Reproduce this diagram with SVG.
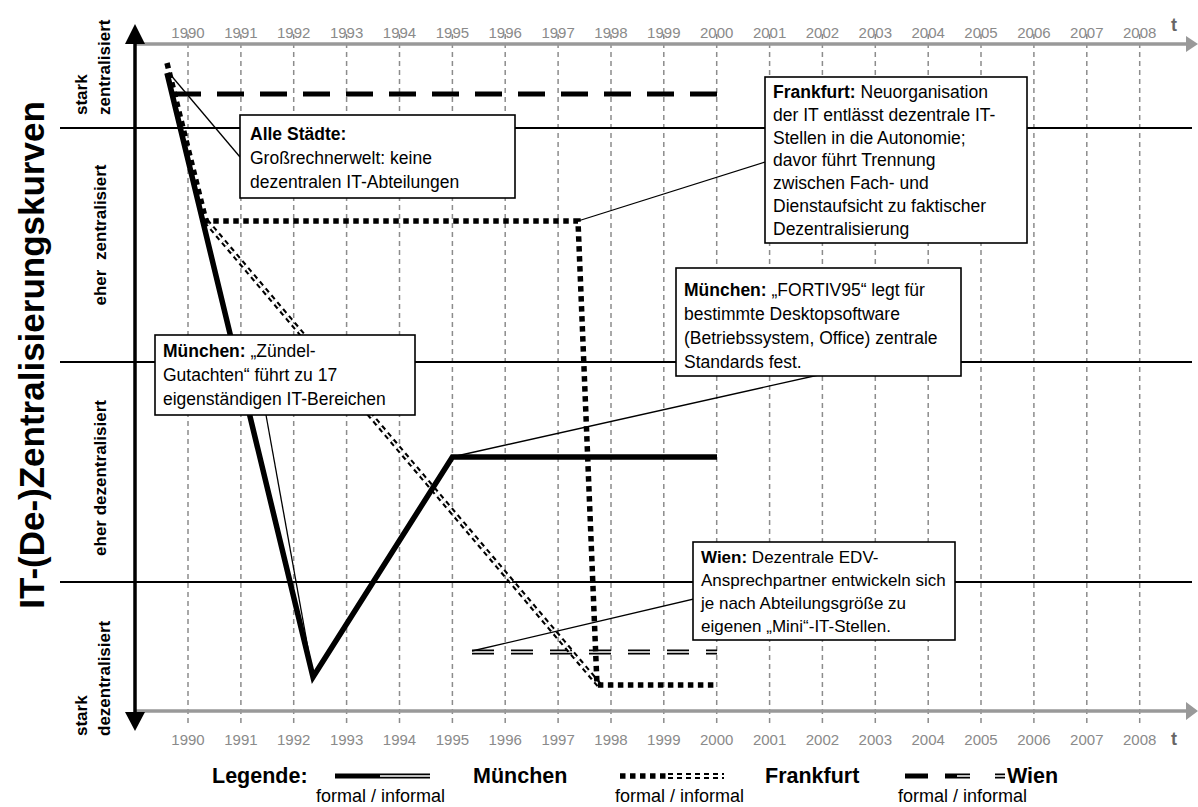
<svg xmlns="http://www.w3.org/2000/svg" width="1198" height="807" viewBox="0 0 1198 807">
<style>
.grid{stroke:#8c8c8c;stroke-width:1.5;stroke-dasharray:5 4;fill:none}
.sep{stroke:#000;stroke-width:2;fill:none}
.yr{font-family:"Liberation Sans",Arial,sans-serif;font-size:15px;fill:#8a8a8a;text-anchor:middle}
.tl{font-family:"Liberation Sans",Arial,sans-serif;font-size:18px;font-weight:bold;fill:#666}
.cat{font-family:"Liberation Sans",Arial,sans-serif;font-size:17px;font-weight:bold;fill:#000}
.title{font-family:"Liberation Sans",Arial,sans-serif;font-size:35px;font-weight:bold;fill:#000}
.box rect{fill:#fff;stroke:#000;stroke-width:1.6}
.bt{font-family:"Liberation Sans",Arial,sans-serif;font-size:17.5px;fill:#000}
.bts{font-size:17px}
.b{font-weight:bold}
.co{stroke:#000;stroke-width:1.3;fill:none}
.mf{stroke:#000;stroke-width:5.5;fill:none;stroke-linejoin:miter}
.ff{stroke:#000;stroke-width:5.5;stroke-dasharray:5.5 4.5;fill:none}
.fib{stroke:#000;stroke-width:6;stroke-dasharray:5 4;fill:none}
.fiw{stroke:#fff;stroke-width:1.8;stroke-dasharray:5 4;fill:none}
.wf{stroke:#000;stroke-width:5;stroke-dasharray:27 16;fill:none}
.wib{stroke:#000;stroke-width:5;stroke-dasharray:22 17;fill:none}
.wiw{stroke:#fff;stroke-width:1.5;stroke-dasharray:22 17;fill:none}
.dbl{stroke:#000;stroke-width:5;fill:none}
.dblw{stroke:#fff;stroke-width:1.5;fill:none}
.lg{font-family:"Liberation Sans",Arial,sans-serif;font-size:21.5px;font-weight:bold;fill:#000}
.lf{font-family:"Liberation Sans",Arial,sans-serif;font-size:18px;fill:#000}
</style>
<rect x="0" y="0" width="1198" height="807" fill="#fff"/>
<g id="grid">
<path class="grid" d="M188 34V723M240.9 34V723M293.7 34V723M346.6 34V723M399.5 34V723M452.4 34V723M505.2 34V723M558.1 34V723M611 34V723M663.8 34V723M716.7 34V723M769.6 34V723M822.4 34V723M875.3 34V723M928.2 34V723M981 34V723M1033.9 34V723M1086.8 34V723M1139.7 34V723"/>
</g>
<g id="year-labels-top">
<text class="yr" x="188" y="38">1990</text><text class="yr" x="240.9" y="38">1991</text><text class="yr" x="293.7" y="38">1992</text><text class="yr" x="346.6" y="38">1993</text><text class="yr" x="399.5" y="38">1994</text><text class="yr" x="452.4" y="38">1995</text><text class="yr" x="505.2" y="38">1996</text><text class="yr" x="558.1" y="38">1997</text><text class="yr" x="611" y="38">1998</text><text class="yr" x="663.8" y="38">1999</text><text class="yr" x="716.7" y="38">2000</text><text class="yr" x="769.6" y="38">2001</text><text class="yr" x="822.4" y="38">2002</text><text class="yr" x="875.3" y="38">2003</text><text class="yr" x="928.2" y="38">2004</text><text class="yr" x="981" y="38">2005</text><text class="yr" x="1033.9" y="38">2006</text><text class="yr" x="1086.8" y="38">2007</text><text class="yr" x="1139.7" y="38">2008</text>
<text class="tl" x="1171" y="31">t</text>
</g>
<g id="year-labels-bottom">
<text class="yr" x="188" y="745">1990</text><text class="yr" x="240.9" y="745">1991</text><text class="yr" x="293.7" y="745">1992</text><text class="yr" x="346.6" y="745">1993</text><text class="yr" x="399.5" y="745">1994</text><text class="yr" x="452.4" y="745">1995</text><text class="yr" x="505.2" y="745">1996</text><text class="yr" x="558.1" y="745">1997</text><text class="yr" x="611" y="745">1998</text><text class="yr" x="663.8" y="745">1999</text><text class="yr" x="716.7" y="745">2000</text><text class="yr" x="769.6" y="745">2001</text><text class="yr" x="822.4" y="745">2002</text><text class="yr" x="875.3" y="745">2003</text><text class="yr" x="928.2" y="745">2004</text><text class="yr" x="981" y="745">2005</text><text class="yr" x="1033.9" y="745">2006</text><text class="yr" x="1086.8" y="745">2007</text><text class="yr" x="1139.7" y="745">2008</text>
<text class="tl" x="1171" y="745">t</text>
</g>
<g id="separators">
<path class="sep" d="M60 128H1192M60 362H1192M60 582H1192"/>
</g>
<g id="axes">
<path d="M135 44H1187M135 711H1187" stroke="#999" stroke-width="3.5" fill="none"/>
<path d="M1186 36L1198 44L1186 52ZM1186 702L1198 711L1186 720Z" fill="#999"/>
<path d="M135 42V714" stroke="#000" stroke-width="3.5" fill="none"/>
<path d="M125 44L135 24L145 44ZM125 712L135 731L145 712Z" fill="#000"/>
</g>
<g id="axis-labels">
<text class="title" transform="translate(44,355) rotate(-90)" text-anchor="middle">IT-(De-)Zentralisierungskurven</text>
<text class="cat" transform="translate(87,115) rotate(-90)">stark</text>
<text class="cat" transform="translate(110,115) rotate(-90)">zentralisiert</text>
<text class="cat" transform="translate(106,235) rotate(-90)" text-anchor="middle" word-spacing="5">eher zentralisiert</text>
<text class="cat" transform="translate(106,478) rotate(-90)" text-anchor="middle">eher dezentralisiert</text>
<text class="cat" transform="translate(87,736) rotate(-90)">stark</text>
<text class="cat" transform="translate(110,736) rotate(-90)">dezentralisiert</text>
</g>
<g id="connectors">
<path class="wf" d="M174 94H717"/>
<path class="wib" d="M472 652H717"/>
<path class="wiw" d="M472 652H717"/>
<path class="fib" d="M206 221L600 686"/>
<path class="fiw" d="M206 221L600 686"/>
<path class="mf" d="M167 73L313 677L452.4 457H717"/>
<path class="ff" d="M167 63L206 221H578L597 685H717"/>
<path class="co" d="M169 73L240 157"/>
<path class="co" d="M578 221L765 162"/>
<path class="co" d="M452 457L832 372"/>
<path class="co" d="M266 415L313 676"/>
<path class="co" d="M472 651L830 567"/>
</g>
<g id="node-alle" class="box">
<rect x="240" y="115" width="275" height="83"/>
<text class="bt" x="250" y="140"><tspan class="b">Alle Städte:</tspan><tspan x="250" dy="24">Großrechnerwelt: keine</tspan><tspan x="250" dy="24">dezentralen IT-Abteilungen</tspan></text>
</g>
<g id="node-frankfurt" class="box">
<rect x="765" y="77" width="262" height="166"/>
<text class="bt" x="773" y="98"><tspan class="b">Frankfurt:</tspan> Neuorganisation<tspan x="773" dy="22.8">der IT entlässt dezentrale IT-</tspan><tspan x="773" dy="22.8">Stellen in die Autonomie;</tspan><tspan x="773" dy="22.8">davor führt Trennung</tspan><tspan x="773" dy="22.8">zwischen Fach- und</tspan><tspan x="773" dy="22.8">Dienstaufsicht zu faktischer</tspan><tspan x="773" dy="22.8">Dezentralisierung</tspan></text>
</g>
<g id="node-fortiv" class="box">
<rect x="676" y="268" width="285" height="108"/>
<text class="bt" x="684" y="296"><tspan class="b">München:</tspan> „FORTIV95“ legt für<tspan x="684" dy="24">bestimmte Desktopsoftware</tspan><tspan x="684" dy="24">(Betriebssystem, Office) zentrale</tspan><tspan x="684" dy="24">Standards fest.</tspan></text>
</g>
<g id="node-zuendel" class="box">
<rect x="155" y="335" width="260" height="80"/>
<text class="bt" x="163" y="357"><tspan class="b">München:</tspan> „Zündel-<tspan x="163" dy="24">Gutachten“ führt zu 17</tspan><tspan x="163" dy="24">eigenständigen IT-Bereichen</tspan></text>
</g>
<g id="node-wien" class="box">
<rect x="693" y="542" width="262" height="98"/>
<text class="bt bts" x="701" y="563"><tspan class="b">Wien:</tspan> Dezentrale EDV-<tspan x="701" dy="23">Ansprechpartner entwickeln sich</tspan><tspan x="701" dy="23">je nach Abteilungsgröße zu</tspan><tspan x="701" dy="23">eigenen „Mini“-IT-Stellen.</tspan></text>
</g>
<g id="legend">
<text class="lg" x="212" y="783">Legende:</text>
<path class="dbl" d="M335 776H430"/>
<path class="dblw" d="M380 776H430"/>
<text class="lf" x="316" y="802">formal / informal</text>
<text class="lg" x="473" y="783">München</text>
<path class="ff" d="M620 776H668"/>
<path class="fib" d="M668 776H724"/>
<path class="fiw" d="M668 776H724"/>
<text class="lf" x="615" y="802">formal / informal</text>
<text class="lg" x="765" y="783">Frankfurt</text>
<path class="dbl" d="M905 776H928M945 776H970M995 776H1005"/>
<path class="dblw" d="M957 776H970M995 776H1005"/>
<text class="lg" x="1007" y="783">Wien</text>
<text class="lf" x="898" y="802">formal / informal</text>
</g>
</svg>
